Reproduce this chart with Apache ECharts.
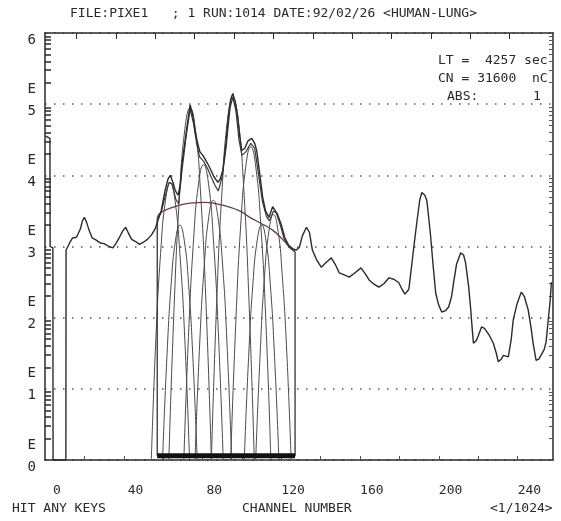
<!DOCTYPE html>
<html>
<head>
<meta charset="utf-8">
<script src="https://cdn.jsdelivr.net/npm/echarts@6/dist/echarts.min.js"></script>
<style>
  html, body { margin: 0; padding: 0; background: #fff; }
  #pixeChart { width: 561px; height: 521px; }
</style>
</head>
<body>
<div id="pixeChart"></div>
<script>
// axis labels: channel numbers and decades (values are log10 of counts)
const channelLabels = [0, 40, 80, 120, 160, 200, 240]
const decades = [0, 1, 2, 3, 4, 5, 6]
const topTicks = [10, 30, 50, 70, 90, 110, 130, 150, 170, 190, 210, 230]
const bottomTicks = [14, 34, 54, 74, 94, 114, 134, 154, 174, 194, 214, 234]

// measured spectrum [channel, log10 counts]
const spectrum = [
  [-5.6, 4.55], [-3.5, 4.52], [-3.4, 3.0], [-2.0, 2.98], [-1.9, 0], [4.6, 0], [4.7, 2.95], [6.5, 3.05],
  [8, 3.12], [10, 3.13], [12, 3.25], [13, 3.36], [14, 3.41], [15, 3.35], [16.5, 3.22], [18, 3.12],
  [20, 3.09], [22, 3.05], [24, 3.04], [26.5, 3.0], [28.5, 2.98], [30, 3.04], [32, 3.14], [33.5, 3.22],
  [35, 3.27], [36.5, 3.18], [38, 3.1], [40, 3.07], [42, 3.03], [44, 3.06], [46, 3.1], [48, 3.16],
  [50, 3.25], [51.5, 3.38], [53, 3.5], [55, 3.79], [56.5, 3.95], [57.6, 4.0], [59, 3.9], [60.1, 3.79],
  [61.6, 3.72], [62.6, 3.85], [63.6, 4.17], [65.7, 4.6], [67.7, 4.99], [69, 4.85], [70.2, 4.63],
  [71.5, 4.45], [72.7, 4.33], [74.2, 4.28], [76.3, 4.18], [77.8, 4.1], [79.8, 3.98], [81.8, 3.9],
  [83, 3.95], [84.3, 4.07], [85.9, 4.45], [86.9, 4.78], [88.4, 5.08], [89.4, 5.15], [90.4, 5.05],
  [91.9, 4.82], [92.9, 4.55], [93.9, 4.35], [95.5, 4.38], [97, 4.48], [99, 4.52], [100.5, 4.45],
  [101.5, 4.35], [103, 4.03], [104.5, 3.7], [106, 3.5], [107.8, 3.41], [109.6, 3.56], [110.6, 3.58],
  [112.1, 3.45], [114.1, 3.3], [115.7, 3.13], [117.7, 3.02], [119.7, 2.97], [121.7, 2.95], [123.2, 2.99],
  [124.7, 3.15], [126.8, 3.27], [128.3, 3.2], [129.8, 2.95], [131.8, 2.82], [134.3, 2.71], [136.9, 2.78],
  [139.4, 2.84], [141.4, 2.75], [143.4, 2.63], [146, 2.6], [148.5, 2.57], [151, 2.62], [154.5, 2.7],
  [156.6, 2.62], [158.6, 2.53], [161.1, 2.47], [163.6, 2.43], [166.2, 2.48], [168.7, 2.56], [171.2, 2.54],
  [173.7, 2.49], [175.3, 2.4], [176.8, 2.33], [178.8, 2.4], [180.3, 2.75], [181.3, 2.99], [182.8, 3.33],
  [184.3, 3.65], [185.4, 3.76], [186.9, 3.72], [187.9, 3.65], [188.9, 3.4], [189.9, 3.13], [190.9, 2.8],
  [192.4, 2.35], [193.9, 2.18], [195.5, 2.08], [197.5, 2.1], [199, 2.15], [200.5, 2.3], [201.5, 2.49],
  [203, 2.75], [205.1, 2.91], [206.6, 2.88], [207.6, 2.77], [209.1, 2.45], [210.1, 2.15], [211.1, 1.8],
  [211.6, 1.64], [213.1, 1.68], [214.1, 1.75], [215.7, 1.87], [217.2, 1.85], [218.2, 1.83], [219.7, 1.75],
  [221.7, 1.64], [223.2, 1.5], [224.2, 1.38], [225.8, 1.42], [226.8, 1.47], [229.3, 1.45], [230.8, 1.7],
  [231.8, 1.97], [233.8, 2.2], [235.9, 2.36], [237.4, 2.3], [239.4, 2.11], [240.9, 1.85], [241.9, 1.64],
  [243.4, 1.4], [244.9, 1.42], [245.9, 1.42], [247.5, 1.55], [248.5, 1.66], [249.5, 1.95], [250.5, 2.22],
  [251.2, 2.5]
]

// fitted sum over the fit window
const fitSum = [
  [51, 3.38], [53, 3.48], [55, 3.7], [57, 3.9], [58.5, 3.88], [60.5, 3.66], [61.8, 3.6], [63.5, 4.05],
  [65.7, 4.55], [67.7, 4.93], [69.5, 4.72], [71, 4.45], [72.5, 4.26], [74.5, 4.2], [76.5, 4.1],
  [78.5, 3.97], [80.5, 3.85], [82, 3.78], [84, 3.98], [86, 4.4], [88, 4.95], [89.4, 5.1], [91, 4.9],
  [92.5, 4.5], [94, 4.28], [96, 4.33], [98.5, 4.45], [100.5, 4.38], [102.5, 4.0], [104.5, 3.62],
  [106.5, 3.42], [108, 3.36], [110, 3.5], [111.5, 3.47], [113.5, 3.3], [115.5, 3.1], [118, 2.99], [121, 2.93]
]

// continuum under the peaks
const background = [
  [51, 3.38], [52.5, 3.47], [60, 3.56], [67.7, 3.61], [75.3, 3.62], [84.3, 3.58], [92.9, 3.5],
  [98, 3.41], [104, 3.32], [109.6, 3.23], [114.6, 3.1], [119.7, 2.95], [121, 2.93]
]

// window edges
const fitWindow = [[51, 3.38], [51, 0.06], [121, 0.06], [121, 2.93]]

// single fitted peaks
const peakK = [[48, 0], [50.3, 1.7], [52.7, 2.9], [55.2, 3.65], [57.6, 3.9], [60, 3.65], [62.5, 2.9], [65, 1.7], [67.4, 0]]
const peakKb = [[53.7, 0], [55.9, 1.44], [58.1, 2.48], [60.3, 3.09], [62.5, 3.3], [64.7, 3.09], [66.9, 2.48], [69.1, 1.44], [71.3, 0]]
const peakCa = [[56.9, 0], [59.6, 2.17], [62.3, 3.71], [65, 4.64], [67.7, 4.95], [70.4, 4.64], [73.1, 3.71], [75.8, 2.17], [78.5, 0]]
const peakCab = [[64.5, 0], [67, 1.82], [69.5, 3.11], [72, 3.89], [74.5, 4.15], [77, 3.89], [79.5, 3.11], [82, 1.82], [84.5, 0]]
const peakTi = [[70.2, 0], [72.5, 1.6], [74.9, 2.74], [77.2, 3.42], [79.5, 3.65], [81.8, 3.42], [84.2, 2.74], [86.5, 1.6], [88.8, 0]]
const peakFe = [[78.5, 0], [81.2, 2.23], [84, 3.83], [86.7, 4.78], [89.4, 5.1], [92.1, 4.78], [94.9, 3.83], [97.6, 2.23], [100.3, 0]]
const peakFeb = [[88.3, 0], [90.9, 1.93], [93.4, 3.3], [96, 4.13], [98.5, 4.4], [101, 4.13], [103.6, 3.3], [106.2, 1.93], [108.7, 0]]
const peakNi = [[95.2, 0], [97.4, 1.44], [99.6, 2.48], [101.8, 3.09], [104, 3.3], [106.2, 3.09], [108.4, 2.48], [110.6, 1.44], [112.8, 0]]
const peakZn = [[101, 0], [103.3, 1.51], [105.5, 2.59], [107.8, 3.23], [110, 3.45], [112.3, 3.23], [114.5, 2.59], [116.8, 1.51], [119, 0]]
const fitPeaks = [peakK, peakKb, peakCa, peakCab, peakTi, peakFe, peakFeb, peakNi, peakZn]

const ink = '#2a2a2a'
const mono = 'DejaVu Sans Mono'

let minorTicks = []
decades.forEach(d => {
  if (d === 6) return
  for (let k = 2; k <= 9; k++) minorTicks.push(d + Math.log10(k))
})

let peakSeries = fitPeaks.map(p => ({
  type: 'line',
  data: p,
  smooth: true,
  symbol: 'none',
  lineStyle: { color: '#4a4a4a', width: 1 },
  z: 2
}))

let option = {
  animation: false,
  backgroundColor: '#fff',
  grid: { left: 45, right: 8, top: 33, bottom: 61 },
  xAxis: [
    {
      type: 'value', min: -6, max: 252, position: 'bottom',
      axisLine: { onZero: false, lineStyle: { color: ink, width: 1.5 } },
      axisTick: { show: false },
      splitLine: { show: false },
      axisLabel: {
        customValues: channelLabels, margin: 24,
        fontFamily: mono, fontSize: 13, color: ink
      }
    },
    {
      type: 'value', min: -6, max: 252, position: 'bottom',
      axisLine: { show: false, onZero: false },
      axisTick: { customValues: bottomTicks, inside: true, length: 4, lineStyle: { color: '#555' } },
      axisLabel: { show: false },
      splitLine: { show: false }
    },
    {
      type: 'value', min: -6, max: 252, position: 'top',
      axisLine: { onZero: false, lineStyle: { color: ink, width: 1.5 } },
      axisTick: { customValues: topTicks, inside: true, length: 6, lineStyle: { color: ink } },
      axisLabel: { show: false },
      splitLine: { show: false }
    }
  ],
  yAxis: [
    {
      type: 'value', min: 0, max: 6, interval: 1, position: 'left',
      axisLine: { show: true, onZero: false, lineStyle: { color: ink, width: 1.5 } },
      axisTick: { show: false },
      splitLine: {
        show: true,
        lineStyle: { color: '#555', width: 1.5, type: [1.5, 7.5] }
      },
      axisLabel: {
        margin: 9,
        padding: [0, 0, 8, 0],
        formatter: v => (v === 6 ? '{e| }\n{n|6}' : '{e|E}\n{n|' + v + '}'),
        rich: {
          e: { fontFamily: mono, fontSize: 14, lineHeight: 22, color: ink },
          n: { fontFamily: mono, fontSize: 14, lineHeight: 22, color: ink }
        }
      }
    },
    {
      type: 'value', min: 0, max: 6, position: 'left',
      axisLine: { show: false, onZero: false },
      axisTick: { customValues: minorTicks, inside: true, length: 6, lineStyle: { color: ink, width: 1.5 } },
      axisLabel: { show: false },
      splitLine: { show: false }
    },
    {
      type: 'value', min: 0, max: 6, position: 'right',
      axisLine: { show: true, onZero: false, lineStyle: { color: ink, width: 1.5 } },
      axisTick: { customValues: minorTicks, inside: true, length: 4, lineStyle: { color: '#555' } },
      axisLabel: { show: false },
      splitLine: { show: false }
    }
  ],
  graphic: [
    { type: 'text', left: 70, top: 7, style: { text: 'FILE:PIXE1   ; 1 RUN:1014 DATE:92/02/26 <HUMAN-LUNG>', font: '13px ' + mono, fill: ink } },
    { type: 'text', left: 438, top: 54, style: { text: 'LT =  4257 sec', font: '13px ' + mono, fill: ink } },
    { type: 'text', left: 438, top: 72, style: { text: 'CN = 31600  nC', font: '13px ' + mono, fill: ink } },
    { type: 'text', left: 447, top: 90, style: { text: 'ABS:       1', font: '13px ' + mono, fill: ink } },
    { type: 'text', left: 12, top: 502, style: { text: 'HIT ANY KEYS', font: '13px ' + mono, fill: ink } },
    { type: 'text', left: 242, top: 502, style: { text: 'CHANNEL NUMBER', font: '13px ' + mono, fill: ink } },
    { type: 'text', left: 490, top: 502, style: { text: '<1/1024>', font: '13px ' + mono, fill: ink } }
  ],
  series: [
    {
      type: 'line', data: spectrum, symbol: 'none',
      lineStyle: { color: ink, width: 1.4 }, z: 4
    },
    {
      type: 'line', data: fitSum, symbol: 'none',
      lineStyle: { color: '#3a3a3a', width: 1.2 }, z: 3
    },
    {
      type: 'line', data: background, smooth: true, symbol: 'none',
      lineStyle: { color: '#6a3f3a', width: 1.3 }, z: 3
    },
    {
      type: 'line', data: fitWindow, symbol: 'none',
      lineStyle: { color: '#333', width: 1.3 }, z: 3
    },
    {
      type: 'line', data: [fitWindow[1], fitWindow[2]], symbol: 'none',
      lineStyle: { color: '#111', width: 5 }, z: 5
    }
  ].concat(peakSeries)
}

let pixeChart = echarts.init(document.getElementById('pixeChart'))
pixeChart.setOption(option)
</script>
</body>
</html>
